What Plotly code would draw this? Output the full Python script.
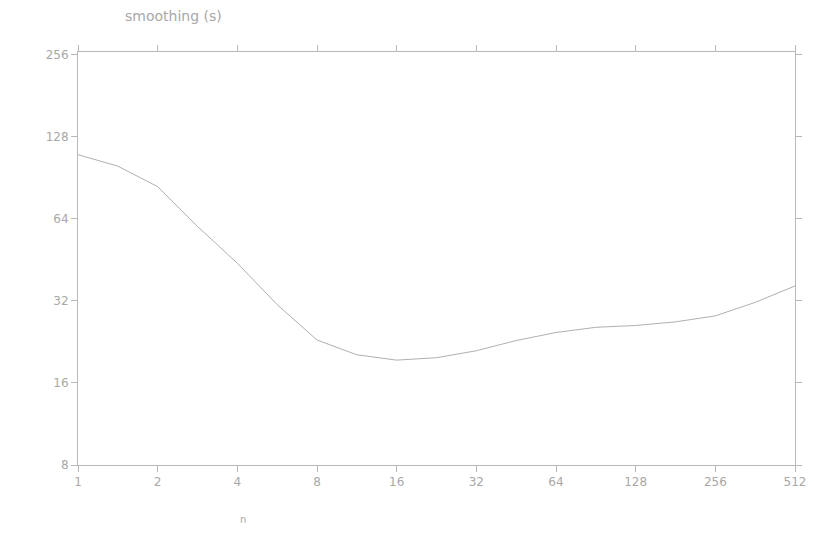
import plotly.graph_objects as go

# Bandwidth sweep: smoothing time against window size (both on log2 axes)
window_sizes = [1, 1.41, 2, 2.83, 4, 5.66, 8, 11.3, 16, 22.6, 32, 45.3,
                64, 90.5, 128, 181, 256, 362, 512]
smoothing_time = [110, 100, 84, 60, 44, 31, 23, 20.3, 19.4, 19.8, 21, 22.9,
                  24.5, 25.6, 26, 26.8, 28.2, 31.6, 36.3]

x_ticks = [1, 2, 4, 8, 16, 32, 64, 128, 256, 512]
y_ticks = [8, 16, 32, 64, 128, 256]

axis_color = "#b8b8b8"
text_color = "#a8a8a8"

fig = go.Figure(
    go.Scatter(
        x=window_sizes,
        y=smoothing_time,
        mode="lines",
        line=dict(color="#b0b0b0", width=1),
        showlegend=False,
    )
)

fig.update_layout(
    width=818,
    height=535,
    margin=dict(l=78, r=21, t=52, b=70),
    paper_bgcolor="white",
    plot_bgcolor="white",
    font=dict(family="DejaVu Sans", size=12, color=text_color),
    title=dict(
        text="smoothing (s)",
        x=125 / 818,
        xanchor="left",
        y=1 - 16 / 535,
        yanchor="middle",
        font=dict(size=14, color=text_color),
    ),
)

fig.update_xaxes(
    type="log",
    range=[0, 9 * 0.30103],
    tickvals=x_ticks,
    ticktext=[str(v) for v in x_ticks],
    showgrid=False,
    zeroline=False,
    showline=True,
    linecolor=axis_color,
    linewidth=1,
    mirror="ticks",
    ticks="outside",
    ticklen=6,
    tickcolor=axis_color,
    tickfont=dict(size=12, color=text_color),
)

fig.update_yaxes(
    type="log",
    range=[3 * 0.30103, 8 * 0.30103 + 0.01],
    tickvals=y_ticks,
    ticktext=[str(v) for v in y_ticks],
    showgrid=False,
    zeroline=False,
    showline=True,
    linecolor=axis_color,
    linewidth=1,
    ticks="outside",
    ticklen=6,
    tickcolor=axis_color,
    mirror="ticks",
    tickfont=dict(size=12, color=text_color),
)

fig.add_annotation(
    text="n",
    xref="paper",
    yref="paper",
    x=(238 - 78) / (818 - 78 - 21),
    y=-(527 - 465) / (535 - 52 - 70),
    showarrow=False,
    font=dict(size=10, color=text_color),
)

fig.write_html("out.html")
